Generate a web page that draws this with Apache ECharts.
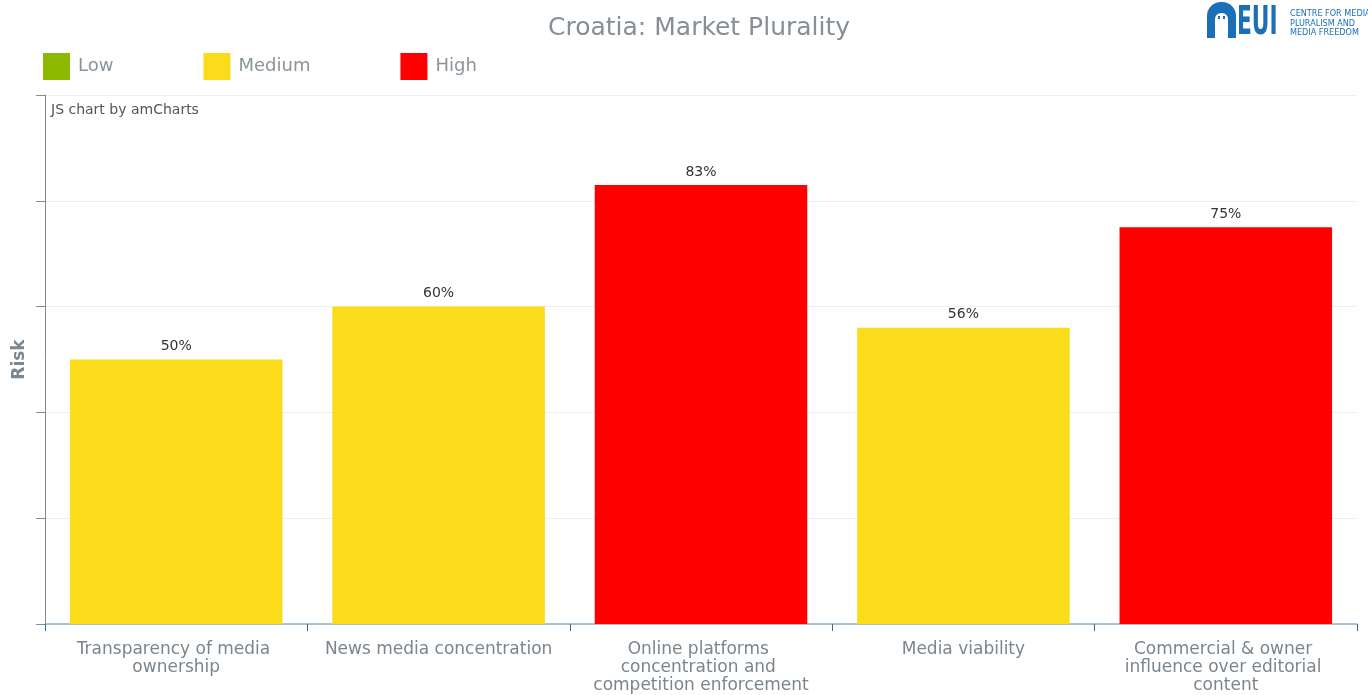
<!DOCTYPE html>
<html>
<head>
<meta charset="utf-8">
<title>Croatia: Market Plurality</title>
<script src="https://cdn.jsdelivr.net/npm/echarts@6/dist/echarts.min.js"></script>
<style>
  html, body { margin: 0; padding: 0; background: #ffffff; }
  #chart { width: 1368px; height: 695px; }
</style>
</head>
<body>
<div id="chart"></div>
<script>
// Market Plurality indicators and their risk scores (%)
const categories = [
  'Transparency of media ownership',
  'News media concentration',
  'Online platforms concentration and competition enforcement',
  'Media viability',
  'Commercial & owner influence over editorial content'
];
const riskValues = [50, 60, 83, 56, 75];
const riskLevels = ['Medium', 'Medium', 'High', 'Medium', 'High'];

// Risk bands shown in the legend
const bandNames = ['Low', 'Medium', 'High'];
const bandColors = ['#8cb800', '#fadc1b', '#ff0000'];

const FONT = 'DejaVu Sans';

// One stacked series per band; each bar only appears in the series of its own band
const series = bandNames.map((band, b) => ({
  name: band,
  type: 'bar',
  stack: 'risk',
  barWidth: '81%',
  itemStyle: { color: bandColors[b] },
  label: {
    show: true,
    position: 'top',
    distance: 6,
    color: '#333333',
    fontSize: 14,
    fontFamily: FONT,
    formatter: p => p.value + '%'
  },
  data: riskValues.map((v, i) => (riskLevels[i] === band ? v : '-'))
}));

const chart = echarts.init(document.getElementById('chart'), null, { renderer: 'canvas' });

chart.setOption({
  backgroundColor: '#ffffff',
  animation: false,
  textStyle: { fontFamily: FONT },
  title: {
    text: 'Croatia: Market Plurality',
    left: 543,
    top: 11,
    textStyle: { fontSize: 25, fontWeight: 'normal', color: '#848f97', fontFamily: FONT }
  },
  legend: {
    data: bandNames,
    left: 38,
    top: 48,
    icon: 'rect',
    itemWidth: 27,
    itemHeight: 27,
    itemGap: 90,
    selectedMode: false,
    textStyle: { fontSize: 18, color: '#8a949b', fontFamily: FONT, padding: [0, 0, 0, 3] }
  },
  grid: { left: 45, right: 11, top: 95, bottom: 70, containLabel: false },
  xAxis: {
    type: 'category',
    data: categories,
    axisLine: { show: true, lineStyle: { color: '#8fb0c8', width: 1.5 } },
    axisTick: { show: true, alignWithLabel: false, length: 7, lineStyle: { color: '#3d6a8c' } },
    axisLabel: {
      interval: 0,
      margin: 17,
      width: 240,
      overflow: 'break',
      fontSize: 17,
      lineHeight: 18,
      color: '#7b858c',
      fontFamily: FONT,
      align: 'center'
    },
    splitLine: { show: false }
  },
  yAxis: {
    type: 'value',
    min: 0,
    max: 100,
    interval: 20,
    name: 'Risk',
    nameLocation: 'middle',
    nameGap: 17,
    nameTextStyle: { fontSize: 17, fontWeight: 'bold', color: '#7b868e', fontFamily: FONT },
    axisLine: { show: true, lineStyle: { color: '#7d8c96' } },
    axisTick: { show: true, length: 9, lineStyle: { color: '#7d8c96' } },
    axisLabel: { show: false },
    splitLine: { show: true, lineStyle: { color: '#efefef' } }
  },
  graphic: [
    {
      type: 'text',
      left: 51,
      top: 103,
      style: { text: 'JS chart by amCharts', fontSize: 14, fill: '#555555', fontFamily: FONT }
    },
    // EUI logo: arch mark, wordmark and centre name
    {
      type: 'group',
      children: [
        { type: 'rect', shape: { x: 1207, y: 2, width: 29, height: 36, r: [14, 14, 0, 0] }, style: { fill: '#1b6fb6' } },
        { type: 'rect', shape: { x: 1215, y: 13, width: 13, height: 25, r: [6, 6, 0, 0] }, style: { fill: '#ffffff' } },
        { type: 'rect', shape: { x: 1218, y: 16, width: 2, height: 3 }, style: { fill: '#1b6fb6' } },
        { type: 'rect', shape: { x: 1223, y: 16, width: 2, height: 3 }, style: { fill: '#1b6fb6' } },
        {
          type: 'text',
          x: 1237, y: 4,
          scaleX: 0.62,
          style: { text: 'EUI', fontSize: 39, fontWeight: 'bold', fill: '#1b6fb6', fontFamily: 'DejaVu Sans Condensed' }
        },
        {
          type: 'text',
          x: 1290, y: 9,
          style: {
            text: 'CENTRE FOR MEDIA\nPLURALISM AND\nMEDIA FREEDOM',
            fontSize: 9, lineHeight: 9.5, fill: '#1b6fb6', fontFamily: 'DejaVu Sans Condensed'
          }
        }
      ]
    }
  ],
  series: series
});
</script>
</body>
</html>
